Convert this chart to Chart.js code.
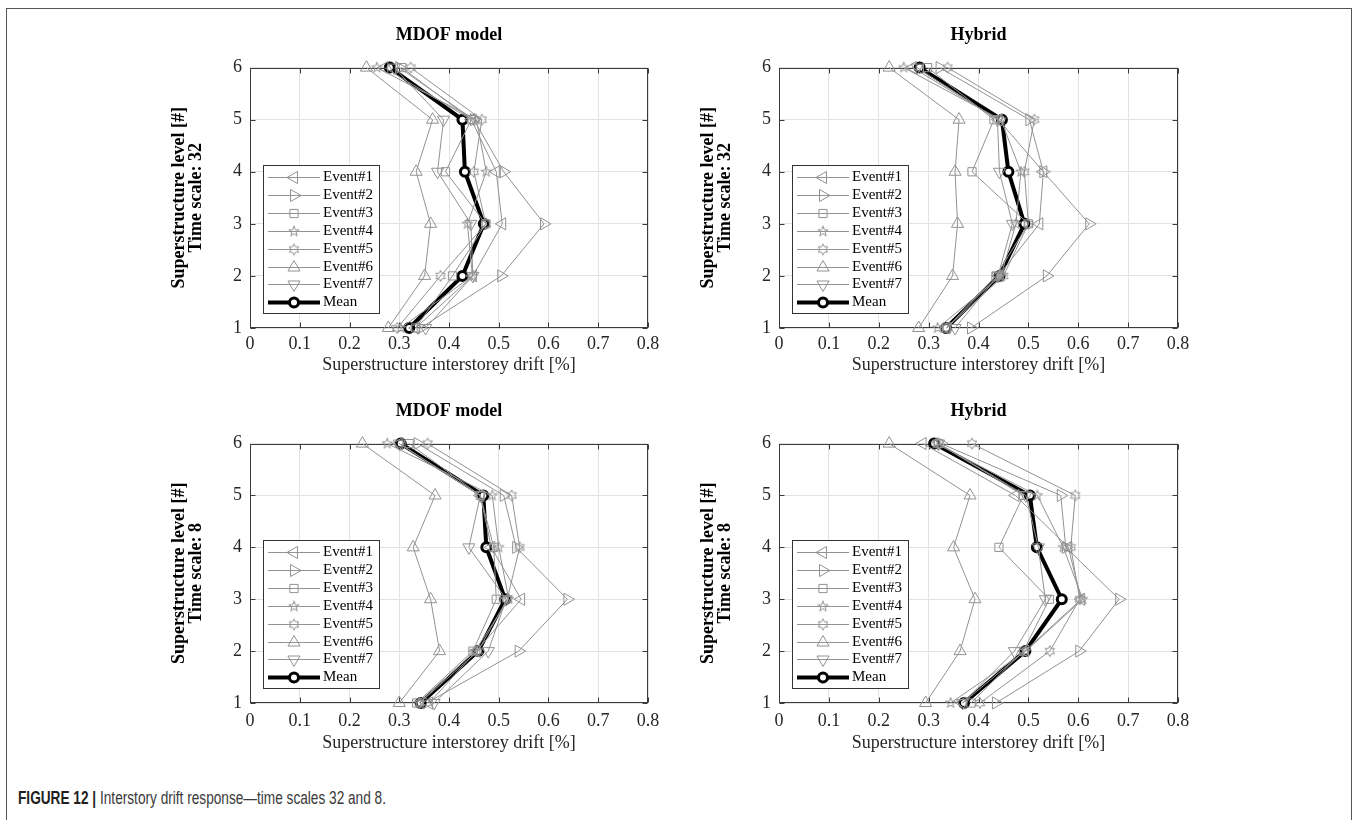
<!DOCTYPE html>
<html>
<head>
<meta charset="utf-8">
<title>Interstory drift response</title>
<script src="https://cdn.jsdelivr.net/npm/chart.js@4.4.0/dist/chart.umd.min.js"></script>
<style>
    html, body { margin: 0; padding: 0; background: #fff; }
    body { width: 1357px; height: 820px; position: relative; overflow: hidden; }
    .frame {
        position: absolute; left: 6px; top: 8px; width: 1344px; height: 830px;
        border: 1.5px solid #555; border-bottom: none;
    }
    canvas { position: absolute; }
    .caption {
        position: absolute; left: 18px; top: 788px;
        font-family: "Liberation Sans", Arial, sans-serif;
        font-size: 17.5px; color: #3a3a3a; white-space: nowrap;
        transform: scaleX(0.78); transform-origin: left center;
    }
    .caption b { color: #231f20; }
</style>
</head>
<body>
<div class="frame"></div>
<div class="caption"><b>FIGURE 12 |</b> Interstory drift response—time scales 32 and 8.</div>

<script>
// Storey levels (y axis) and series labels
const LEVELS = [1, 2, 3, 4, 5, 6];
const SERIES_LABELS = ['Event#1', 'Event#2', 'Event#3', 'Event#4', 'Event#5', 'Event#6', 'Event#7', 'Mean'];
const X_TICKS = [0, 0.1, 0.2, 0.3, 0.4, 0.5, 0.6, 0.7, 0.8];

// Drift [%] per level 1..6, one row per event, last row = mean
const MDOF_TS32 = [
    [0.333, 0.448, 0.507, 0.495, 0.445, 0.270],
    [0.343, 0.505, 0.591, 0.510, 0.450, 0.300],
    [0.333, 0.407, 0.474, 0.393, 0.445, 0.305],
    [0.303, 0.447, 0.437, 0.475, 0.455, 0.255],
    [0.296, 0.383, 0.474, 0.450, 0.466, 0.323],
    [0.278, 0.351, 0.363, 0.334, 0.367, 0.234],
    [0.353, 0.448, 0.444, 0.377, 0.389, 0.290],
    [0.320, 0.427, 0.470, 0.432, 0.427, 0.281]
];
const HYBRID_TS32 = [
    [0.336, 0.440, 0.522, 0.530, 0.440, 0.268],
    [0.385, 0.537, 0.622, 0.530, 0.502, 0.322],
    [0.336, 0.435, 0.500, 0.387, 0.431, 0.298],
    [0.318, 0.445, 0.475, 0.485, 0.445, 0.250],
    [0.336, 0.450, 0.500, 0.492, 0.512, 0.338],
    [0.280, 0.348, 0.358, 0.353, 0.361, 0.221],
    [0.353, 0.439, 0.468, 0.442, 0.438, 0.277],
    [0.335, 0.442, 0.492, 0.460, 0.447, 0.282]
];
const MDOF_TS8 = [
    [0.360, 0.455, 0.545, 0.485, 0.463, 0.300],
    [0.355, 0.540, 0.638, 0.535, 0.510, 0.337],
    [0.335, 0.448, 0.495, 0.490, 0.463, 0.320],
    [0.340, 0.452, 0.520, 0.500, 0.487, 0.276],
    [0.341, 0.458, 0.517, 0.542, 0.526, 0.357],
    [0.300, 0.381, 0.363, 0.328, 0.372, 0.226],
    [0.370, 0.479, 0.515, 0.440, 0.463, 0.300],
    [0.343, 0.459, 0.513, 0.475, 0.469, 0.303]
];
const HYBRID_TS8 = [
    [0.368, 0.493, 0.606, 0.580, 0.474, 0.288],
    [0.435, 0.602, 0.682, 0.575, 0.565, 0.325],
    [0.385, 0.490, 0.542, 0.441, 0.490, 0.320],
    [0.344, 0.495, 0.609, 0.570, 0.518, 0.315],
    [0.403, 0.543, 0.603, 0.585, 0.594, 0.387],
    [0.294, 0.363, 0.393, 0.350, 0.383, 0.221],
    [0.368, 0.472, 0.534, 0.520, 0.495, 0.320],
    [0.371, 0.494, 0.567, 0.517, 0.503, 0.311]
];

const GRAY = '#929292';
const SERIF = '"Liberation Serif", "Times New Roman", Times, serif';

// Hollow star markers (MATLAB 'p' and 'h')
function starCanvas(points, outer, inner) {
    const c = document.createElement('canvas');
    c.width = c.height = 14;
    const g = c.getContext('2d');
    g.strokeStyle = GRAY;
    g.lineWidth = 1;
    g.beginPath();
    for (let i = 0; i < points * 2; i++) {
        const r = i % 2 ? inner : outer;
        const a = -Math.PI / 2 + i * Math.PI / points;
        const px = 7 + r * Math.cos(a), py = 7 + r * Math.sin(a);
        if (i === 0) g.moveTo(px, py); else g.lineTo(px, py);
    }
    g.closePath();
    g.stroke();
    return c;
}
const STAR5 = starCanvas(5, 5.5, 2.2);
const STAR6 = starCanvas(6, 5.5, 3.1);

// Marker per series (style only)
const MARKERS = [
    { pointStyle: 'triangle', rotation: -90, radius: 7 },
    { pointStyle: 'triangle', rotation: 90, radius: 7 },
    { pointStyle: 'rect', rotation: 0, radius: 5.8 },
    { pointStyle: STAR5, rotation: 0, radius: 5 },
    { pointStyle: STAR6, rotation: 0, radius: 5 },
    { pointStyle: 'triangle', rotation: 0, radius: 7 },
    { pointStyle: 'triangle', rotation: 180, radius: 7 },
    { pointStyle: 'circle', rotation: 0, radius: 4.5 }
];

function buildDatasets(series) {
    return series.map((vals, i) => {
        const isMean = i === series.length - 1;
        const m = MARKERS[i];
        return {
            label: SERIES_LABELS[i],
            data: vals.map((v, k) => ({ x: v, y: LEVELS[k] })),
            borderColor: isMean ? '#000' : GRAY,
            borderWidth: isMean ? 4 : 1,
            pointStyle: m.pointStyle,
            pointRotation: m.rotation,
            pointRadius: m.radius,
            pointBorderColor: isMean ? '#000' : GRAY,
            pointBorderWidth: isMean ? 3 : 1,
            pointBackgroundColor: isMean ? '#fff' : 'rgba(255,255,255,0)',
            tension: 0,
            clip: false
        };
    });
}

// Axes box with inward ticks on all four sides
const boxPlugin = {
    id: 'matBox',
    beforeDatasetsDraw(chart) {
        const { ctx, chartArea: a, scales: { x, y } } = chart;
        const L = Math.round(a.left) + 0.5, R = Math.round(a.right) - 0.5;
        const T = Math.round(a.top) + 0.5, B = Math.round(a.bottom) - 0.5;
        ctx.save();
        ctx.strokeStyle = '#3a3a3a';
        ctx.lineWidth = 1;
        ctx.strokeRect(L, T, R - L, B - T);
        ctx.beginPath();
        x.ticks.forEach(t => {
            const px = Math.round(x.getPixelForValue(t.value)) + 0.5;
            ctx.moveTo(px, B); ctx.lineTo(px, B - 5);
            ctx.moveTo(px, T); ctx.lineTo(px, T + 5);
        });
        y.ticks.forEach(t => {
            const py = Math.round(y.getPixelForValue(t.value)) + 0.5;
            ctx.moveTo(L, py); ctx.lineTo(L + 5, py);
            ctx.moveTo(R, py); ctx.lineTo(R - 5, py);
        });
        ctx.stroke();
        ctx.restore();
    }
};

// Legend inside the lower left corner, line + marker samples
const legendPlugin = {
    id: 'insideLegend',
    afterDatasetsDraw(chart) {
        const { ctx, chartArea } = chart;
        const sets = chart.data.datasets;
        const w = 116, h = 148, rowH = 17.9;
        const x0 = Math.round(chartArea.left) + 13;
        const y0 = Math.round(chartArea.bottom) - 15 - h;
        ctx.save();
        ctx.fillStyle = '#fff';
        ctx.fillRect(x0, y0, w, h);
        ctx.strokeStyle = '#333';
        ctx.lineWidth = 1;
        ctx.strokeRect(x0 + 0.5, y0 + 0.5, w, h);
        ctx.font = '15px ' + SERIF;
        ctx.textBaseline = 'middle';
        sets.forEach((ds, i) => {
            const yy = Math.round(y0 + 12 + i * rowH) + 0.5;
            ctx.strokeStyle = ds.borderColor;
            ctx.lineWidth = ds.borderWidth;
            ctx.beginPath();
            ctx.moveTo(x0 + 5, yy);
            ctx.lineTo(x0 + 57, yy);
            ctx.stroke();
            ctx.strokeStyle = ds.pointBorderColor;
            ctx.fillStyle = ds.pointBackgroundColor;
            ctx.lineWidth = ds.pointBorderWidth;
            Chart.helpers.drawPoint(ctx, {
                pointStyle: ds.pointStyle,
                radius: ds.pointRadius,
                rotation: ds.pointRotation,
                borderWidth: ds.pointBorderWidth
            }, x0 + 31, yy);
            ctx.fillStyle = '#000';
            ctx.fillText(ds.label, x0 + 60, yy);
        });
        ctx.restore();
    }
};

function createPanel(opts) {
    const canvas = document.createElement('canvas');
    canvas.width = opts.width;
    canvas.height = opts.height;
    canvas.style.left = opts.left + 'px';
    canvas.style.top = opts.top + 'px';
    canvas.style.width = opts.width + 'px';
    canvas.style.height = opts.height + 'px';
    document.body.appendChild(canvas);

    new Chart(canvas, {
        type: 'line',
        data: { datasets: buildDatasets(opts.series) },
        plugins: [boxPlugin, legendPlugin],
        options: {
            responsive: false,
            animation: false,
            events: [],
            devicePixelRatio: 1,
            layout: { padding: { left: 0, right: 25, top: 0, bottom: 0 } },
            scales: {
                x: {
                    type: 'linear',
                    min: X_TICKS[0],
                    max: X_TICKS[X_TICKS.length - 1],
                    afterBuildTicks: s => { s.ticks = X_TICKS.map(v => ({ value: v })); },
                    afterFit: s => { s.height = opts.axisHeight; },
                    grid: { color: '#e2e2e2', drawTicks: false },
                    border: { display: false },
                    ticks: {
                        padding: opts.tickPad,
                        color: '#262626',
                        font: { family: SERIF, size: 18 },
                        maxRotation: 0,
                        callback: v => v === 0 ? '0' : Number(v).toFixed(1)
                    },
                    title: {
                        display: true,
                        text: 'Superstructure interstorey drift [%]',
                        color: '#262626',
                        font: { family: SERIF, size: 18, lineHeight: 1.2 },
                        padding: { top: 0, bottom: 2 }
                    }
                },
                y: {
                    type: 'linear',
                    min: LEVELS[0],
                    max: LEVELS[LEVELS.length - 1],
                    afterBuildTicks: s => { s.ticks = LEVELS.map(v => ({ value: v })); },
                    afterFit: s => { s.width = 90; },
                    grid: { color: '#e2e2e2', drawTicks: false },
                    border: { display: false },
                    ticks: {
                        padding: 8,
                        color: '#262626',
                        font: { family: SERIF, size: 18 }
                    },
                    title: {
                        display: true,
                        text: ['Superstructure level [#]', opts.scaleLabel],
                        color: '#000',
                        font: { family: SERIF, size: 18, weight: 'bold', lineHeight: 0.95 },
                        padding: { top: 11, bottom: 0 }
                    }
                }
            },
            plugins: {
                legend: { display: false },
                tooltip: { enabled: false },
                title: {
                    display: true,
                    text: opts.title,
                    fullSize: false,
                    color: '#000',
                    font: { family: SERIF, size: 18, weight: 'bold', lineHeight: 1.2 },
                    padding: { top: 5, bottom: 21 }
                }
            }
        }
    });
}

createPanel({ series: MDOF_TS32, title: 'MDOF model', scaleLabel: 'Time scale: 32', left: 160, top: 20, width: 513, height: 358, axisHeight: 50, tickPad: 5 });
createPanel({ series: HYBRID_TS32, title: 'Hybrid', scaleLabel: 'Time scale: 32', left: 689, top: 20, width: 514, height: 358, axisHeight: 50, tickPad: 5 });
createPanel({ series: MDOF_TS8, title: 'MDOF model', scaleLabel: 'Time scale: 8', left: 160, top: 396, width: 513, height: 360, axisHeight: 53, tickPad: 7 });
createPanel({ series: HYBRID_TS8, title: 'Hybrid', scaleLabel: 'Time scale: 8', left: 689, top: 396, width: 514, height: 360, axisHeight: 53, tickPad: 7 });
</script>
</body>
</html>
